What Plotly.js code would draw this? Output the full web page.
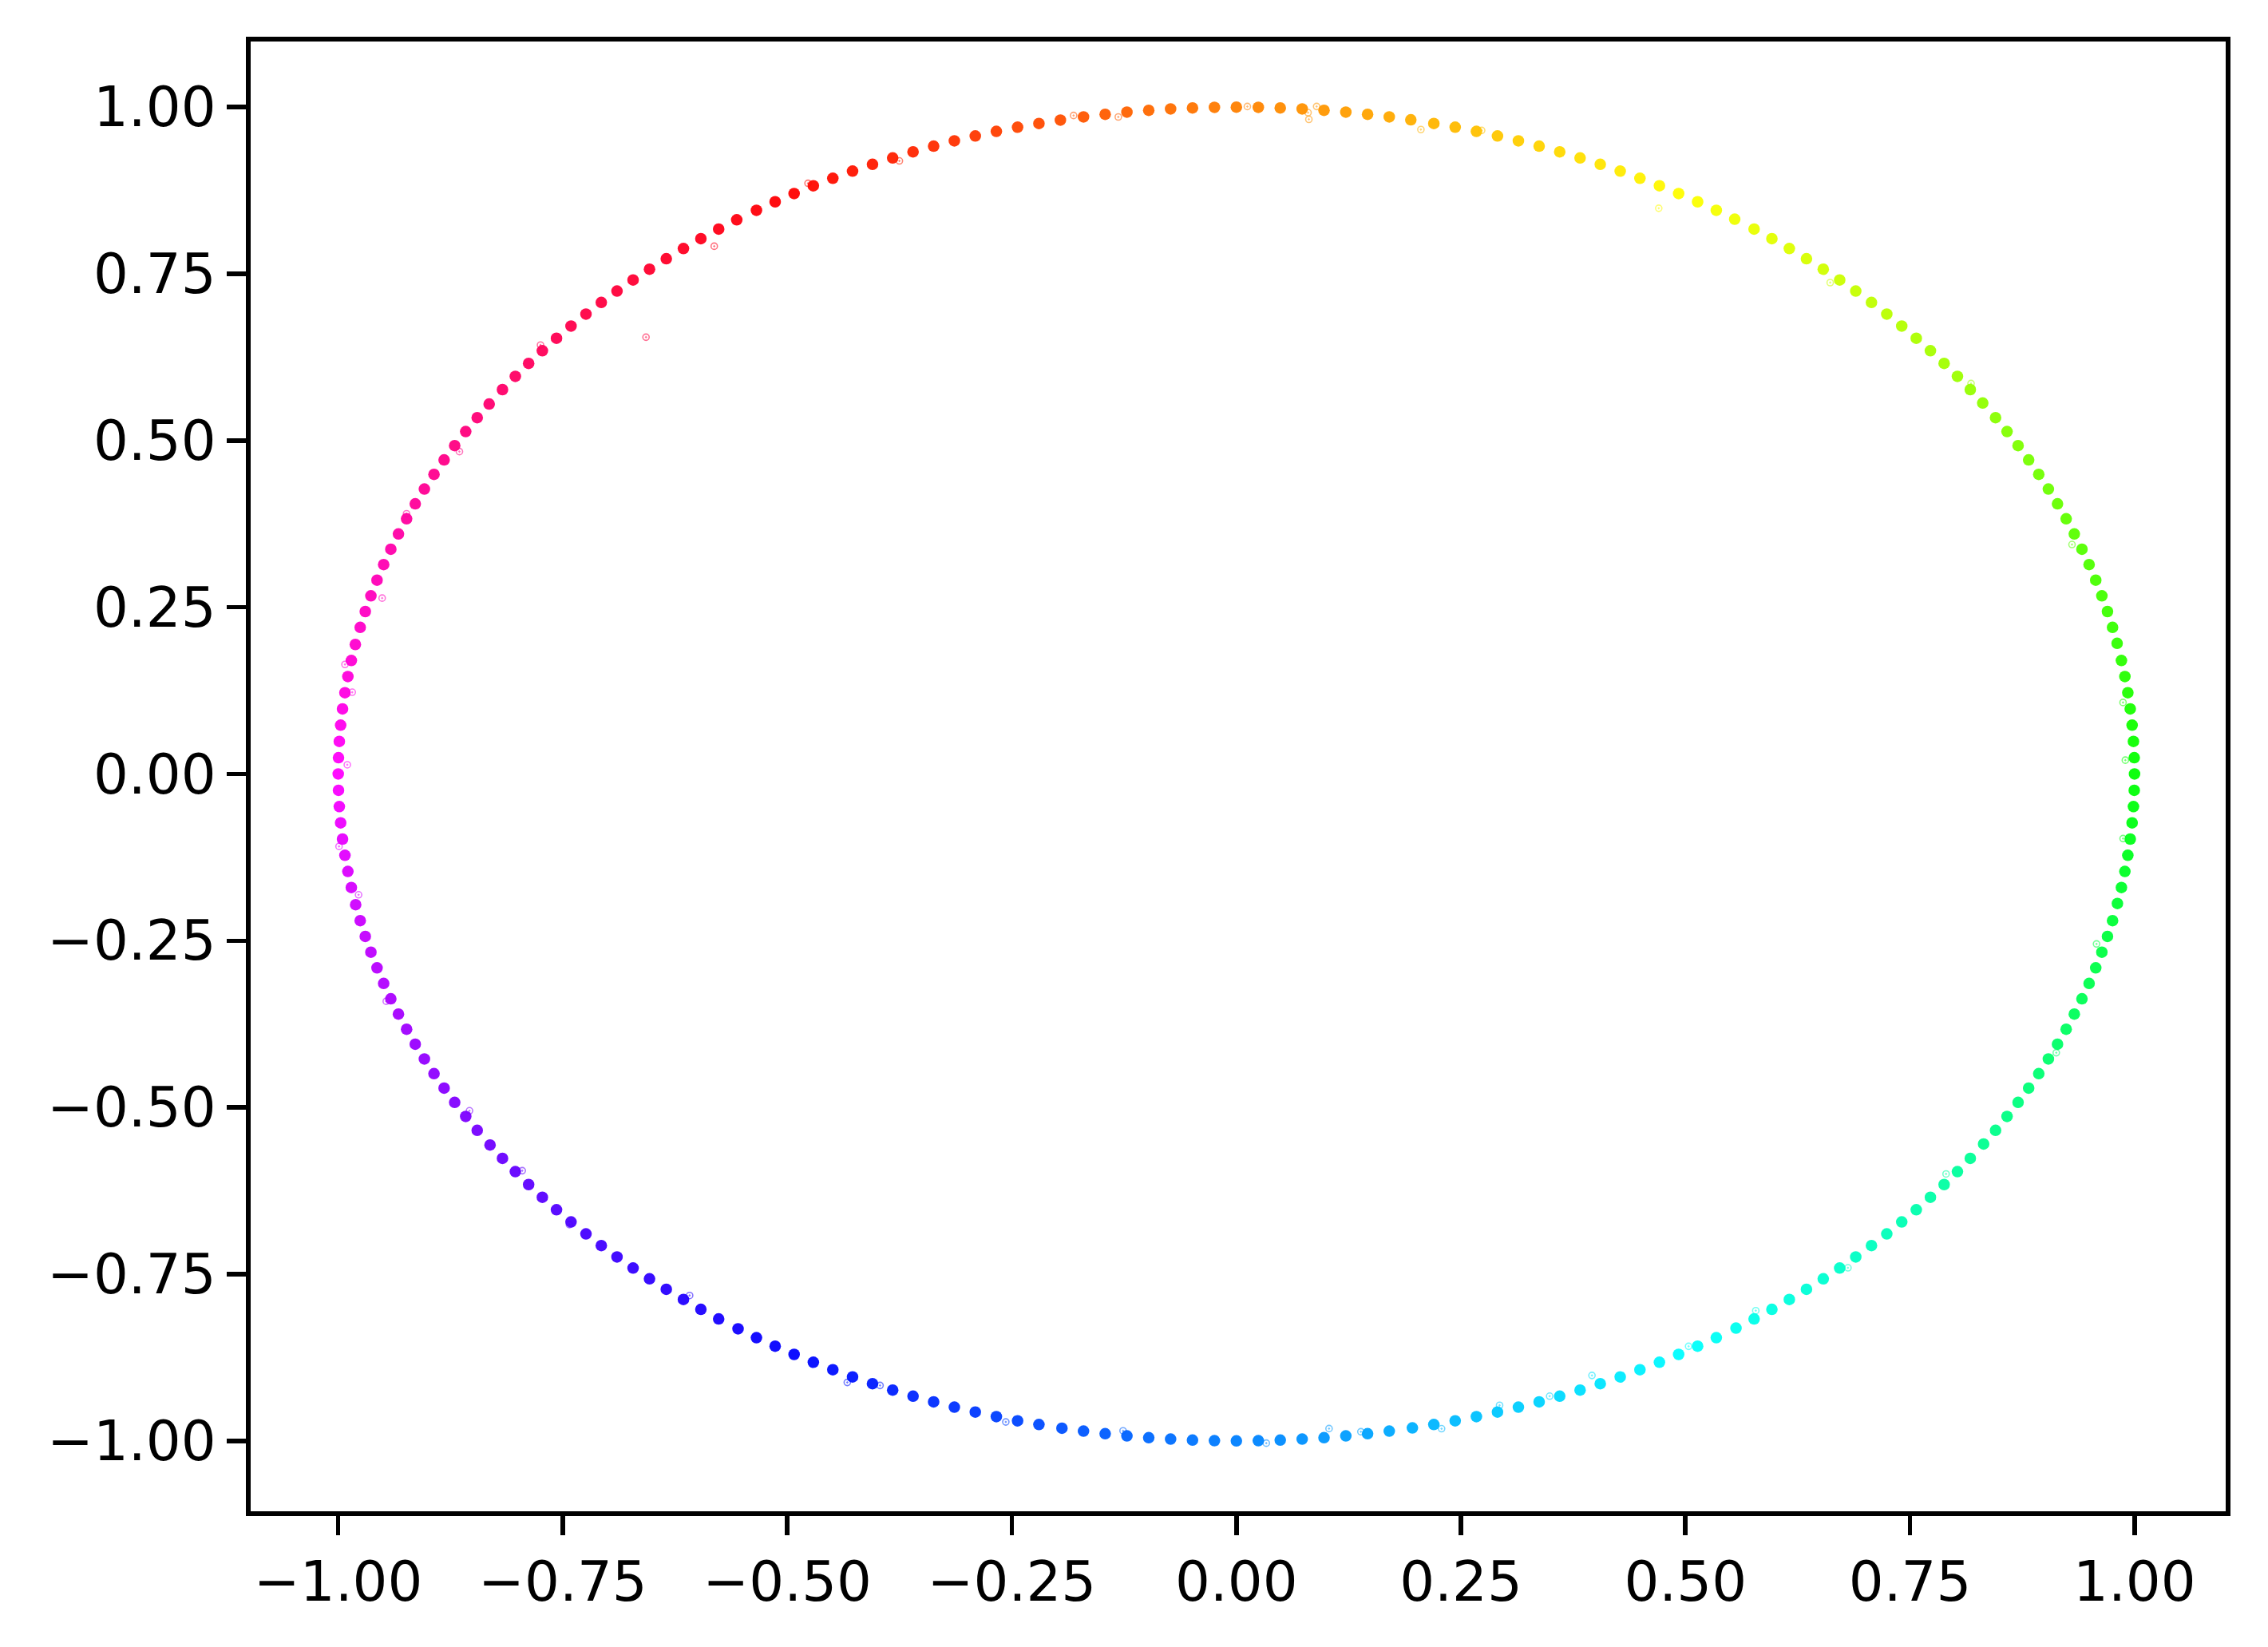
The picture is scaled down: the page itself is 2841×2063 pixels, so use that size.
<!DOCTYPE html>
<html>
<head>
<meta charset="utf-8">
<script src="https://cdn.plot.ly/plotly-3.0.1.min.js"></script>
<style>
html,body{margin:0;padding:0;background:#fff;}
#chart{width:2841px;height:2063px;}
</style>
</head>
<body>
<div id="chart"></div>
<script>
// Main points: polar angle (degrees) of each point cluster, radius ~1
const mainAngleDeg = [
0.0,1.4,2.8,4.2,5.6,7.0,8.4,9.8,11.3,12.7,14.1,15.5,16.9,18.3,19.7,21.1,22.5,23.9,25.3,26.7,28.1,29.5,30.9,32.3,33.8,35.2,36.6,38.0,39.4,40.8,42.2,43.6,
45.0,46.4,47.8,49.2,50.6,52.0,53.4,54.8,56.3,57.7,59.1,60.5,61.9,63.3,64.7,66.1,67.5,68.9,70.3,71.7,73.1,74.5,75.9,77.3,78.8,80.2,81.6,83.0,84.4,85.8,87.2,88.6,
90.0,91.4,92.8,94.2,95.6,97.0,98.4,99.8,101.3,102.7,104.1,105.5,106.9,108.3,109.7,111.1,112.5,113.9,115.3,116.7,118.1,119.5,120.9,122.3,123.8,125.2,126.6,128.0,129.4,130.8,132.2,133.6,
135.0,136.4,137.8,139.2,140.6,142.0,143.4,144.8,146.3,147.7,149.1,150.5,151.9,153.3,154.7,156.1,157.5,158.9,160.3,161.7,163.1,164.5,165.9,167.3,168.8,170.2,171.6,173.0,174.4,175.8,177.2,178.6,
180.0,181.4,182.8,184.2,185.6,187.0,188.4,189.8,191.3,192.7,194.1,195.5,196.9,198.3,199.7,201.1,202.5,203.9,205.3,206.7,208.1,209.5,210.9,212.3,213.8,215.2,216.6,218.0,219.4,220.8,222.2,223.6,
225.0,226.4,227.8,229.2,230.6,232.0,233.4,234.8,236.3,237.7,239.1,240.5,241.9,243.3,244.7,246.1,247.5,248.9,250.3,251.7,253.1,254.5,255.9,257.3,258.8,260.2,261.6,263.0,264.4,265.8,267.2,268.6,
270.0,271.4,272.8,274.2,275.6,277.0,278.4,279.8,281.3,282.7,284.1,285.5,286.9,288.3,289.7,291.1,292.5,293.9,295.3,296.7,298.1,299.5,300.9,302.3,303.8,305.2,306.6,308.0,309.4,310.8,312.2,313.6,
315.0,316.4,317.8,319.2,320.6,322.0,323.4,324.8,326.3,327.7,329.1,330.5,331.9,333.3,334.7,336.1,337.5,338.9,340.3,341.7,343.1,344.5,345.9,347.3,348.8,350.2,351.6,353.0,354.4,355.8,357.2,358.6
];
const mainRadius = 1.0;

// Isolated (faint) points: angle (deg) and radius
const strayAngleDeg = [135.1, 61.0, 293.7, 276.0, 85.4, 287.2, 126.3, 6.2, 1.2, 354.4, 170.6, 164.5, 179.2, 278.0, 283.1, 290.5, 244.6, 246.6, 85.3, 89.3, 78.0, 84.9,
  20.3, 35.6, 48.1, 100.4, 112.2, 140.3, 150.8, 157.1, 190.5, 199.8, 210.6, 222.3, 232.1, 255.2, 262.7, 300.4, 312.6, 322.8, 335.4, 345.1, 74.2, 97.6, 118.3, 172.9, 186.2, 216.8, 271.9, 305.7];
const strayRadius = [0.928, 0.970, 0.985, 0.987, 0.995, 0.991, 0.982, 0.993, 0.990, 0.992, 1.006, 0.987, 0.990, 0.996, 1.008, 0.996, 1.010, 0.999, 0.985, 1.001, 0.988, 1.005,
  0.992, 1.006, 0.990, 1.004, 0.993, 1.007, 0.991, 1.003, 0.994, 1.006, 0.992, 1.004, 0.991, 1.005, 0.993, 0.995, 1.006, 0.992, 1.004, 0.991, 1.003, 0.994, 1.006, 0.992, 1.005, 0.993, 1.004, 0.991];

const xTickVals = [-1.0, -0.75, -0.5, -0.25, 0.0, 0.25, 0.5, 0.75, 1.0];
const xTickText = ["\u22121.00", "\u22120.75", "\u22120.50", "\u22120.25", "0.00", "0.25", "0.50", "0.75", "1.00"];
const yTickVals = [-1.0, -0.75, -0.5, -0.25, 0.0, 0.25, 0.5, 0.75, 1.0];
const yTickText = ["\u22121.00", "\u22120.75", "\u22120.50", "\u22120.25", "0.00", "0.25", "0.50", "0.75", "1.00"];

// polar -> cartesian
const rad = d => d * Math.PI / 180;
const mainX = mainAngleDeg.map(a => mainRadius * Math.cos(rad(a)));
const mainY = mainAngleDeg.map(a => mainRadius * Math.sin(rad(a)));
const strayX = strayAngleDeg.map((a, i) => strayRadius[i] * Math.cos(rad(a)));
const strayY = strayAngleDeg.map((a, i) => strayRadius[i] * Math.sin(rad(a)));

// hue colormap keyed on angle (green at 0 deg, red at 120 deg)
const hueScale = [
  [0, '#00ff00'], [1/6, '#ffff00'], [1/3, '#ff0000'], [0.5, '#ff00ff'],
  [2/3, '#0000ff'], [5/6, '#00ffff'], [1, '#00ff00']
];

const traces = [
  {
    type: 'scatter', mode: 'markers', x: strayX, y: strayY,
    marker: { symbol: 'circle-open-dot', size: 8, color: strayAngleDeg, colorscale: hueScale, cmin: 0, cmax: 360,
      line: { width: 1.6 }, opacity: 0.55 },
    hoverinfo: 'skip', showlegend: false
  },
  {
    type: 'scatter', mode: 'markers', x: mainX, y: mainY,
    marker: { symbol: 'circle', size: 14.5, color: mainAngleDeg, colorscale: hueScale, cmin: 0, cmax: 360,
      opacity: 0.95, line: { width: 0 } },
    hoverinfo: 'skip', showlegend: false
  }
];

const axisCommon = {
  showgrid: false, zeroline: false, showline: true, linecolor: '#000', linewidth: 5.6, mirror: true,
  ticks: 'outside', ticklen: 24, tickwidth: 5.6, tickcolor: '#000',
  tickfont: { family: 'DejaVu Sans', size: 69, color: '#000' }
};

const layout = {
  width: 2841, height: 2063,
  margin: { l: 314.3, r: 52.8, t: 51.8, b: 169.8, pad: 0 },
  paper_bgcolor: '#fff', plot_bgcolor: '#fff',
  xaxis: Object.assign({}, axisCommon, { range: [-1.0975, 1.1015], tickmode: 'array', tickvals: xTickVals, ticktext: xTickText }),
  yaxis: Object.assign({}, axisCommon, { range: [-1.1056, 1.0984], tickmode: 'array', tickvals: yTickVals, ticktext: yTickText }),
  showlegend: false
};

Plotly.newPlot('chart', traces, layout, { staticPlot: true, displayModeBar: false });
</script>
</body>
</html>
